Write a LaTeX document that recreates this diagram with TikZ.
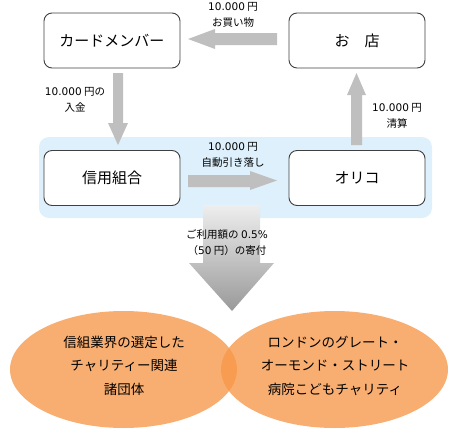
\documentclass[tikz,border=0pt]{standalone}
\usepackage{fontspec}
\setmainfont{Noto Sans CJK JP}
\newfontfamily\numfont{DejaVu Sans}
\usetikzlibrary{shapes.geometric,fadings}
\definecolor{boxline}{HTML}{404040}
\definecolor{arrgray}{HTML}{BFBFBF}
\definecolor{bgblue}{HTML}{DDF0FC}
\definecolor{ellorange}{HTML}{F79646}
\definecolor{gtop}{HTML}{EEEEEE}
\definecolor{gbot}{HTML}{999999}
\tikzset{
  flowbox/.style={draw=boxline, line width=0.9pt, rounded corners=8pt, fill=white, minimum width=136pt, minimum height=55pt, inner sep=0pt, font=\fontsize{15}{18}\selectfont},
  lbl/.style={align=center, font=\fontsize{10.5}{16}\selectfont, inner sep=0pt},
  elltext/.style={align=center, font=\fontsize{13.5}{23.5}\selectfont, inner sep=0pt},
  orangeell/.style={ellipse, fill=ellorange, fill opacity=0.77, minimum width=227pt, minimum height=117pt, inner sep=0pt},
  grayarrow/.style={fill=arrgray, draw=none}
}
\newcommand{\nm}[1]{{\numfont #1}}
\begin{document}
\begin{tikzpicture}[x=1pt,y=-1pt]
\useasboundingbox (0,0) rectangle (464,440);
% blue background
\node[fill=bgblue, rounded corners=10pt, minimum width=393pt, minimum height=81pt, inner sep=0pt] (bg) at (235.5,177.5) {};
% boxes
\node[flowbox] (card) at (112,40.5) {カードメンバー};
\node[flowbox] (shop) at (357,40.5) {お\hspace{1em}店};
\node[flowbox] (bank) at (112,178) {信用組合};
\node[flowbox] (orico) at (357,178) {オリコ};
% left arrow (shop -> card)
\fill[grayarrow] (277,33) -- (215,33) -- (215,29) -- (188,39) -- (215,49) -- (215,45) -- (277,45) -- cycle;
% down arrow (card -> bank)
\fill[grayarrow] (113,73) -- (123,73) -- (123,123) -- (128,123) -- (118,145) -- (108,123) -- (113,123) -- cycle;
% right arrow (bank -> orico)
\fill[grayarrow] (188,175) -- (250,175) -- (250,171) -- (277,180.5) -- (250,190) -- (250,187) -- (188,187) -- cycle;
% up arrow (orico -> shop)
\fill[grayarrow] (351,145) -- (362,145) -- (362,95) -- (366,95) -- (356.5,73) -- (347,95) -- (351,95) -- cycle;
% big gradient arrow
\shade[top color=gtop, bottom color=gbot] (203,205) -- (260,205) -- (260,263) -- (274,263) -- (232,311) -- (189,263) -- (203,263) -- cycle;
% labels
\node[lbl] (l1) at (233,15) {\nm{10.000} 円\\お買い物};
\node[lbl] (l2) at (75,100) {\nm{10.000} 円の\\入金};
\node[lbl] (l3) at (397,115.5) {\nm{10.000} 円\\清算};
\node[lbl] (l4) at (233,154.5) {\nm{10.000} 円\\自動引き落し};
\node[lbl] (l5) at (227,242.5) {ご利用額の \nm{0.5\%}\\（\nm{50} 円）の寄付};
% ellipses
\node[orangeell] (e1) at (123.5,369.5) {};
\node[orangeell] (e2) at (334.5,369.5) {};
\node[elltext] (t1) at (124,365.5) {信組業界の選定した\\チャリティー関連\\諸団体};
\node[elltext] (t2) at (335,365.5) {ロンドンのグレート・\\オーモンド・ストリート\\病院こどもチャリティ};
\end{tikzpicture}
\end{document}
